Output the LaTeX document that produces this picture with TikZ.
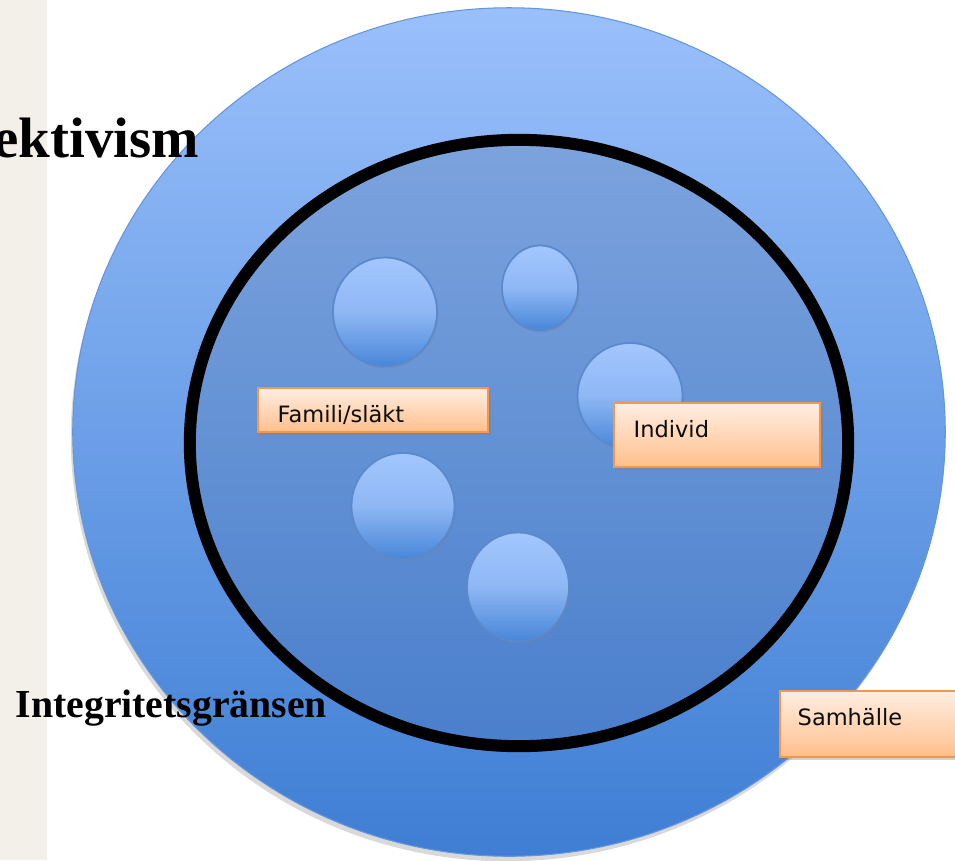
\documentclass[tikz,border=0pt]{standalone}
\usepackage{fontspec}
\setmainfont{Liberation Serif}
\newfontfamily\boxfont{DejaVu Sans}
\usetikzlibrary{shapes.geometric,shadows,calc}
\definecolor{stripcol}{HTML}{F3F0E9}
\definecolor{bigtop}{HTML}{9AC0FB}
\definecolor{bigbot}{HTML}{3E7ED4}
\definecolor{bigedge}{HTML}{6595DD}
\definecolor{intop}{HTML}{7CA3DD}
\definecolor{inbot}{HTML}{4A7FCC}
\definecolor{smtop}{HTML}{A3C7FF}
\definecolor{smmid}{HTML}{8EB7F4}
\definecolor{smbot}{HTML}{4886D8}
\definecolor{smedge}{HTML}{5A89CC}
\definecolor{boxtop}{HTML}{FFEEE2}
\definecolor{boxbot}{HTML}{FFBF8C}
\definecolor{boxedge}{HTML}{F59748}
\tikzset{
  bigdisc/.style={ellipse, inner sep=0pt, minimum width=8.72cm, minimum height=8.48cm,
    top color=bigtop, bottom color=bigbot, draw=bigedge, line width=0.3pt,
    drop shadow={shadow xshift=-0.02cm, shadow yshift=-0.05cm, opacity=0.3}},
  innerdisc/.style={ellipse, inner sep=0pt, minimum width=6.58cm, minimum height=6.06cm,
    top color=intop, bottom color=inbot, draw=black, line width=0.12cm},
  smalldisc/.style={ellipse, inner sep=0pt, top color=smtop, bottom color=smbot,
    middle color=smmid, draw=smedge, line width=0.5pt,
    drop shadow={shadow xshift=0.015cm, shadow yshift=-0.02cm, opacity=0.25}},
  labelbox/.style={rectangle, inner sep=0pt, top color=boxtop, bottom color=boxbot,
    draw=boxedge, line width=0.5pt,
    drop shadow={shadow xshift=0.025cm, shadow yshift=-0.03cm, opacity=0.35}},
  boxtext/.style={anchor=base west, inner sep=0pt, font=\boxfont\fontsize{6.4pt}{7.5pt}\selectfont, text=black!95},
  headtext/.style={anchor=base west, inner sep=0pt, font=\bfseries}
}
\begin{document}
\begin{tikzpicture}[x=0.01cm,y=-0.01cm]
\useasboundingbox (0,0) rectangle (955,860);
\clip (0,0) rectangle (955,860);
\fill[stripcol] (0,0) rectangle (47,860);

\node[bigdisc] (soc) at (509,432) {};
\node[innerdisc] (integ) at (519,443) {};

\node[smalldisc, minimum width=1.04cm, minimum height=1.09cm] (c1) at (385,312) {};
\node[smalldisc, minimum width=0.76cm, minimum height=0.85cm] (c2) at (540,288) {};
\node[smalldisc, minimum width=1.05cm, minimum height=1.06cm] (c3) at (630,396) {};
\node[smalldisc, minimum width=1.03cm, minimum height=1.06cm] (c4) at (403,506) {};
\node[smalldisc, minimum width=1.02cm, minimum height=1.09cm] (c5) at (518,587) {};

\node[labelbox, minimum width=2.30cm, minimum height=0.44cm] (fam) at (373,410) {};
\node[boxtext] (famtext) at (277,422) {Famili/släkt};

\node[labelbox, minimum width=2.06cm, minimum height=0.64cm] (ind) at (717,435) {};
\node[boxtext] (indtext) at (633,437) {Individ};

\node[labelbox, minimum width=2.10cm, minimum height=0.66cm] (sam) at (885,724) {};
\node[boxtext] (samtext) at (797,725) {Samhälle};

\node[headtext, font=\bfseries\fontsize{16.2pt}{19pt}\selectfont] (title) at (-7,157) {ektivism};
\node[headtext, font=\bfseries\fontsize{11.3pt}{13pt}\selectfont] (intlabel) at (15,717) {Integritetsgränsen};
\end{tikzpicture}
\end{document}
